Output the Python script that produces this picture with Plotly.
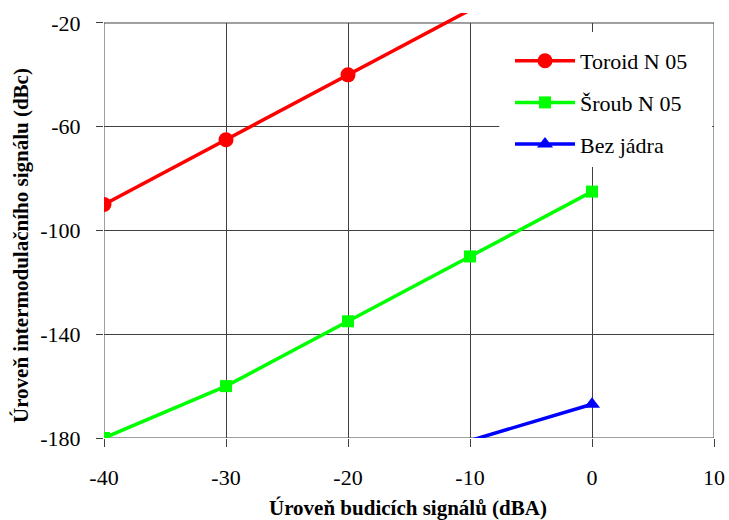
import plotly.graph_objects as go

# Drive level (dBA) and intermodulation level (dBc) for each core type
level_toroid = [-40, -30, -20, -10]
imd_toroid = [-90, -65, -40, -15]

level_sroub = [-40, -30, -20, -10, 0]
imd_sroub = [-180, -160, -135, -110, -85]

level_bez = [-10, 0]
imd_bez = [-181, -167]

x_ticks = [-40, -30, -20, -10, 0, 10]
y_ticks = [-180, -140, -100, -60, -20]

grid_col = "#404040"
serif = "Liberation Serif"

series = [
    dict(name="Toroid N 05", x=level_toroid, y=imd_toroid, color="#FF0000",
         symbol="circle", size=15, shown=[1, 1, 1, 0]),
    dict(name="Šroub N 05", x=level_sroub, y=imd_sroub, color="#00FF00",
         symbol="square", size=12, shown=[1, 1, 1, 1, 1]),
    dict(name="Bez jádra", x=level_bez, y=imd_bez, color="#0000FF",
         symbol="triangle-up", size=14, shown=[0, 1]),
]

fig = go.Figure()
for s in series:
    # the data itself; points off the scale get no marker
    fig.add_trace(go.Scatter(
        x=s["x"], y=s["y"], name=s["name"], mode="lines+markers", showlegend=False,
        legendgroup=s["name"],
        line=dict(color=s["color"], width=3.5),
        marker=dict(symbol=s["symbol"], color=s["color"], opacity=1,
                    line=dict(width=0),
                    size=[s["size"] * k for k in s["shown"]]),
    ))
    # legend entry with a full-size marker
    fig.add_trace(go.Scatter(
        x=[None], y=[None], name=s["name"], mode="lines+markers", legendgroup=s["name"],
        line=dict(color=s["color"], width=3.5),
        marker=dict(symbol=s["symbol"], color=s["color"], size=s["size"],
                    line=dict(width=0)),
    ))

x_lo, x_hi = x_ticks[0], x_ticks[-1]
y_lo, y_hi = y_ticks[0], y_ticks[-1]

# blank strip above the top tick (hides the grid there), legend backing, then the frame
fig.add_shape(type="rect", xref="x", yref="y", x0=x_lo - 1, x1=x_hi + 1, y0=y_hi, y1=-10,
              layer="between", line_width=0, fillcolor="white")
fig.add_shape(type="rect", xref="x", yref="y", x0=-7.6, x1=9.85, y0=-75.5, y1=-23.5,
              layer="between", line_width=0, fillcolor="white")
fig.add_shape(type="rect", xref="x", yref="y", x0=x_lo, x1=x_hi, y0=y_lo, y1=y_hi,
              layer="between", line=dict(color=grid_col, width=1), fillcolor="rgba(0,0,0,0)")

title_font = dict(family=serif, size=21, color="black")
fig.add_annotation(text="<b>Úroveň budicích signálů (dBA)</b>", xref="paper", yref="paper",
                   x=(408 - 104) / 610, y=(438 - 508) / 425, xanchor="center",
                   yanchor="middle", showarrow=False, font=title_font)
fig.add_annotation(text="<b>Úroveň intermodulačního signálu (dBc)</b>", xref="paper",
                   yref="paper", x=(21 - 104) / 610, y=(438 - 246) / 425, textangle=-90,
                   xanchor="center", yanchor="middle", showarrow=False, font=title_font)

fig.update_layout(
    width=729, height=520,
    margin=dict(l=104, r=15, t=13, b=82),
    paper_bgcolor="white", plot_bgcolor="white",
    font=dict(family=serif, size=20, color="black"),
    showlegend=True,
    legend=dict(
        x=(510 - 104) / 610, xanchor="left", y=1 - 27 / 425, yanchor="top",
        bgcolor="rgba(255,255,255,0)", borderwidth=0,
        font=dict(family=serif, size=22, color="black"),
        itemwidth=60, tracegroupgap=10, traceorder="grouped",
    ),
    xaxis=dict(
        range=[x_lo, x_hi], tickvals=x_ticks, ticktext=[str(v) for v in x_ticks],
        ticks="outside", ticklen=8, automargin=False,
        tickcolor=grid_col, showgrid=True, gridcolor=grid_col, gridwidth=1,
        zeroline=False, showline=False, ticklabelstandoff=12,
        tickfont=dict(family=serif, size=22),
    ),
    yaxis=dict(
        range=[y_lo, -16.15], tickvals=y_ticks, ticktext=[str(v) for v in y_ticks],
        ticks="outside", ticklen=7, automargin=False,
        tickcolor=grid_col, showgrid=True, gridcolor=grid_col, gridwidth=1,
        zeroline=False, showline=False, ticklabelstandoff=11,
        tickfont=dict(family=serif, size=22),
    ),
)

fig.write_html("out.html")
